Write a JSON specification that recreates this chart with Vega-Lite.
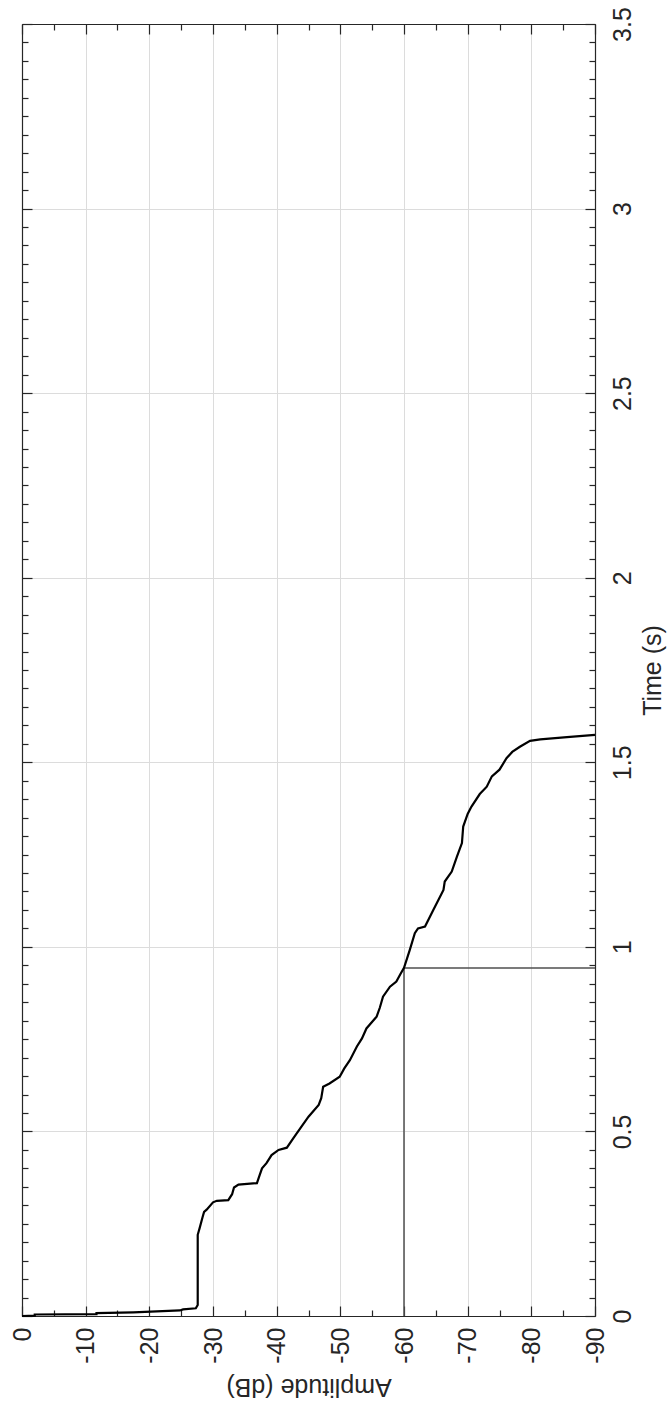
{
  "$schema": "https://vega.github.io/schema/vega-lite/v6.json",
  "width": 573,
  "height": 1292,
  "autosize": {"type": "none"},
  "padding": {"left": 22, "top": 24, "right": 73, "bottom": 91},
  "background": "white",
  "config": {
    "view": {"stroke": null},
    "axis": {
      "labelFont": "Liberation Sans",
      "labelFontSize": 25,
      "labelColor": "#262626",
      "titleFont": "Liberation Sans",
      "titleFontSize": 25,
      "titleFontWeight": "normal",
      "titleColor": "#262626",
      "domainColor": "#262626",
      "domainWidth": 1.2,
      "tickColor": "#262626",
      "tickWidth": 1.2,
      "gridColor": "#dcdcdc",
      "gridWidth": 1,
      "labelOverlap": false,
      "labelBound": false,
      "labelFlush": false
    }
  },
  "datasets": {
    "decay": [
      {"amplitude": 0, "time": 0},
      {"amplitude": -2.0, "time": 0.001},
      {"amplitude": -2.0, "time": 0.004},
      {"amplitude": -11.7, "time": 0.005},
      {"amplitude": -11.7, "time": 0.008},
      {"amplitude": -17.5, "time": 0.010},
      {"amplitude": -24.8, "time": 0.015},
      {"amplitude": -25.3, "time": 0.018},
      {"amplitude": -27.3, "time": 0.021},
      {"amplitude": -27.6, "time": 0.03},
      {"amplitude": -27.6, "time": 0.22},
      {"amplitude": -27.9, "time": 0.238},
      {"amplitude": -28.4, "time": 0.27},
      {"amplitude": -28.6, "time": 0.282},
      {"amplitude": -29.0, "time": 0.288},
      {"amplitude": -30.0, "time": 0.308},
      {"amplitude": -30.6, "time": 0.312},
      {"amplitude": -32.4, "time": 0.314},
      {"amplitude": -33.0, "time": 0.33},
      {"amplitude": -33.3, "time": 0.348},
      {"amplitude": -34.0, "time": 0.356},
      {"amplitude": -36.9, "time": 0.360},
      {"amplitude": -37.3, "time": 0.38},
      {"amplitude": -37.7, "time": 0.400},
      {"amplitude": -38.4, "time": 0.414},
      {"amplitude": -39.2, "time": 0.436},
      {"amplitude": -40.3, "time": 0.450},
      {"amplitude": -41.6, "time": 0.456},
      {"amplitude": -42.6, "time": 0.481},
      {"amplitude": -43.7, "time": 0.508},
      {"amplitude": -45.0, "time": 0.540},
      {"amplitude": -46.6, "time": 0.572},
      {"amplitude": -47.0, "time": 0.590},
      {"amplitude": -47.3, "time": 0.621},
      {"amplitude": -48.3, "time": 0.630},
      {"amplitude": -49.9, "time": 0.648},
      {"amplitude": -50.6, "time": 0.670},
      {"amplitude": -51.5, "time": 0.693},
      {"amplitude": -52.6, "time": 0.730},
      {"amplitude": -53.4, "time": 0.752},
      {"amplitude": -54.1, "time": 0.779},
      {"amplitude": -55.7, "time": 0.811},
      {"amplitude": -56.2, "time": 0.835},
      {"amplitude": -56.7, "time": 0.865},
      {"amplitude": -57.8, "time": 0.892},
      {"amplitude": -58.8, "time": 0.906},
      {"amplitude": -59.4, "time": 0.925},
      {"amplitude": -60.0, "time": 0.943},
      {"amplitude": -60.9, "time": 0.991},
      {"amplitude": -61.7, "time": 1.037},
      {"amplitude": -62.2, "time": 1.050},
      {"amplitude": -63.3, "time": 1.055},
      {"amplitude": -64.6, "time": 1.100},
      {"amplitude": -65.5, "time": 1.130},
      {"amplitude": -66.2, "time": 1.154},
      {"amplitude": -66.4, "time": 1.177},
      {"amplitude": -67.5, "time": 1.204},
      {"amplitude": -68.3, "time": 1.244},
      {"amplitude": -69.1, "time": 1.281},
      {"amplitude": -69.3, "time": 1.326},
      {"amplitude": -70.0, "time": 1.360},
      {"amplitude": -70.6, "time": 1.380},
      {"amplitude": -71.9, "time": 1.414},
      {"amplitude": -73.0, "time": 1.434},
      {"amplitude": -73.8, "time": 1.462},
      {"amplitude": -75.0, "time": 1.480},
      {"amplitude": -76.1, "time": 1.511},
      {"amplitude": -77.0, "time": 1.528},
      {"amplitude": -78.2, "time": 1.542},
      {"amplitude": -79.8, "time": 1.558},
      {"amplitude": -81.4, "time": 1.562},
      {"amplitude": -85.6, "time": 1.568},
      {"amplitude": -90.0, "time": 1.574}
    ],
    "t60": [
      {"step": 1, "amplitude": -60, "time": 0},
      {"step": 2, "amplitude": -60, "time": 0.943},
      {"step": 3, "amplitude": -90, "time": 0.943}
    ]
  },
  "layer": [
    {
      "data": {"name": "t60"},
      "mark": {"type": "line", "color": "#505050", "strokeWidth": 1.5},
      "encoding": {
        "x": {
          "field": "amplitude",
          "type": "quantitative",
          "scale": {"domain": [-90, 0], "reverse": true, "nice": false, "zero": false},
          "axis": {
            "orient": "top",
            "title": null,
            "labels": false,
            "grid": false,
            "values": [0, -5, -10, -15, -20, -25, -30, -35, -40, -45, -50, -55, -60, -65, -70, -75, -80, -85, -90],
            "tickSize": {"condition": {"test": "datum.value % 10 == 0", "value": -10}, "value": -6}
          }
        },
        "y": {
          "field": "time",
          "type": "quantitative",
          "scale": {"domain": [0, 3.5], "nice": false, "zero": false},
          "axis": {
            "orient": "left",
            "title": null,
            "labels": false,
            "grid": false,
            "values": [0, 0.05, 0.1, 0.15, 0.2, 0.25, 0.3, 0.35, 0.4, 0.45, 0.5, 0.55, 0.6, 0.65, 0.7, 0.75, 0.8, 0.85, 0.9, 0.95, 1, 1.05, 1.1, 1.15, 1.2, 1.25, 1.3, 1.35, 1.4, 1.45, 1.5, 1.55, 1.6, 1.65, 1.7, 1.75, 1.8, 1.85, 1.9, 1.95, 2, 2.05, 2.1, 2.15, 2.2, 2.25, 2.3, 2.35, 2.4, 2.45, 2.5, 2.55, 2.6, 2.65, 2.7, 2.75, 2.8, 2.85, 2.9, 2.95, 3, 3.05, 3.1, 3.15, 3.2, 3.25, 3.3, 3.35, 3.4, 3.45, 3.5],
            "tickSize": {"condition": {"test": "abs(datum.value * 2 - round(datum.value * 2)) < 1e-6", "value": -10}, "value": -6}
          }
        },
        "order": {"field": "step", "type": "quantitative"}
      }
    },
    {
      "data": {"name": "decay"},
      "mark": {"type": "line", "color": "#000000", "strokeWidth": 2.2},
      "encoding": {
        "x": {
          "field": "amplitude",
          "type": "quantitative",
          "scale": {"domain": [-90, 0], "reverse": true, "nice": false, "zero": false},
          "axis": {
            "orient": "bottom",
            "title": "Amplitude (dB)",
            "values": [0, -5, -10, -15, -20, -25, -30, -35, -40, -45, -50, -55, -60, -65, -70, -75, -80, -85, -90],
            "labelExpr": "datum.value % 10 == 0 ? '' + datum.value : ''",
            "labelAngle": 270,
            "labelAlign": "right",
            "labelBaseline": "middle",
            "labelPadding": 21,
            "tickSize": {"condition": {"test": "datum.value % 10 == 0", "value": -10}, "value": -6},
            "grid": true,
            "gridOpacity": {"condition": {"test": "datum.value % 10 == 0", "value": 1}, "value": 0},
            "titleAngle": 180,
            "titleAlign": "center",
            "titleBaseline": "middle",
            "titleX": 286.5,
            "titleY": 70
          }
        },
        "y": {
          "field": "time",
          "type": "quantitative",
          "scale": {"domain": [0, 3.5], "nice": false, "zero": false},
          "axis": {
            "orient": "right",
            "title": "Time (s)",
            "values": [0, 0.05, 0.1, 0.15, 0.2, 0.25, 0.3, 0.35, 0.4, 0.45, 0.5, 0.55, 0.6, 0.65, 0.7, 0.75, 0.8, 0.85, 0.9, 0.95, 1, 1.05, 1.1, 1.15, 1.2, 1.25, 1.3, 1.35, 1.4, 1.45, 1.5, 1.55, 1.6, 1.65, 1.7, 1.75, 1.8, 1.85, 1.9, 1.95, 2, 2.05, 2.1, 2.15, 2.2, 2.25, 2.3, 2.35, 2.4, 2.45, 2.5, 2.55, 2.6, 2.65, 2.7, 2.75, 2.8, 2.85, 2.9, 2.95, 3, 3.05, 3.1, 3.15, 3.2, 3.25, 3.3, 3.35, 3.4, 3.45, 3.5],
            "labelExpr": "abs(datum.value * 2 - round(datum.value * 2)) < 1e-6 ? '' + datum.value : ''",
            "labelAngle": 270,
            "labelAlign": "center",
            "labelBaseline": "top",
            "labelPadding": 25,
            "tickSize": {"condition": {"test": "abs(datum.value * 2 - round(datum.value * 2)) < 1e-6", "value": -10}, "value": -6},
            "grid": true,
            "gridOpacity": {"condition": {"test": "abs(datum.value * 2 - round(datum.value * 2)) < 1e-6", "value": 1}, "value": 0},
            "titleAngle": 270,
            "titleAlign": "center",
            "titleBaseline": "top",
            "titleX": 45,
            "titleY": 646
          }
        },
        "order": {"field": "time", "type": "quantitative"}
      }
    }
  ],
  "resolve": {"axis": {"x": "independent", "y": "independent"}}
}
